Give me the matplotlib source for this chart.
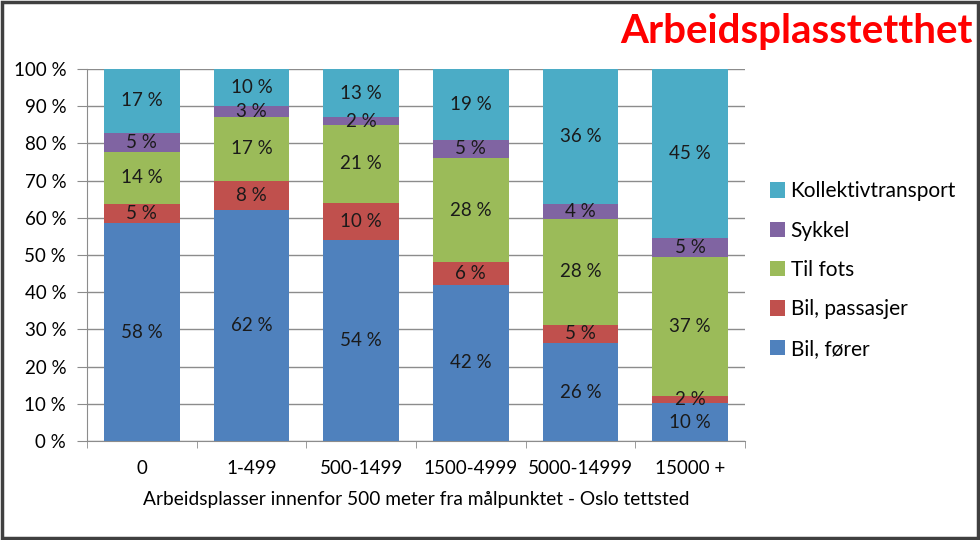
import numpy as np
import matplotlib.pyplot as plt
from matplotlib.patches import Rectangle

categories = ['0', '1-499', '500-1499', '1500-4999', '5000-14999', '15000 +']
series = ['Bil, fører', 'Bil, passasjer', 'Til fots', 'Sykkel', 'Kollektivtransport']
bil_forer = [58, 62, 54, 42, 26, 10]
bil_passasjer = [5, 8, 10, 6, 5, 2]
til_fots = [14, 17, 21, 28, 28, 37]
sykkel = [5, 3, 2, 5, 4, 5]
kollektiv = [17, 10, 13, 19, 36, 45]
colors = ['#4F81BD', '#C0504D', '#9BBB59', '#8064A2', '#4BACC6']

plt.rcParams['font.family'] = ['Lato', 'DejaVu Sans']

data = np.array([bil_forer, bil_passasjer, til_fots, sykkel, kollektiv], dtype=float)
share = data / data.sum(axis=0) * 100  # 100 % stacked, like Excel

fig = plt.figure(figsize=(9.8, 5.4), dpi=100)
ax = fig.add_axes([87/980, 1 - 441/540, (745-87)/980, (441-69)/540])

x = np.arange(len(categories))
bottom = np.zeros(len(categories))
for i, name in enumerate(series):
    ax.bar(x, share[i], 0.69, bottom=bottom, color=colors[i], label=name, zorder=3)
    for j in range(len(categories)):
        ax.text(x[j], bottom[j] + share[i][j] / 2, f'{int(data[i][j])}\u00a0%',
                ha='center', va='center', fontsize=13.5, color='#1a1a1a', zorder=4)
    bottom += share[i]

ax.set_xlim(-0.5, len(categories) - 0.5)
ax.set_ylim(0, 100)
ax.set_yticks(range(0, 101, 10))
ax.set_yticklabels([f'{v}\u00a0%' for v in range(0, 101, 10)], fontsize=13.5)
ax.yaxis.grid(True, color='#8c8c8c', linewidth=1, zorder=0)
ax.set_xticks(x)
ax.set_xticklabels(categories, fontsize=13.5)
ax.set_xticks(np.arange(-0.5, len(categories)), minor=True)
ax.tick_params(axis='x', which='major', length=0, pad=14)
ax.tick_params(axis='x', which='minor', length=5, color='#8c8c8c')
ax.tick_params(axis='y', length=7, color='#8c8c8c', pad=8)
for s in ['top', 'right']:
    ax.spines[s].set_visible(False)
ax.spines['left'].set_color('#8c8c8c')
ax.spines['bottom'].set_color('#8c8c8c')
ax.set_xlabel('Arbeidsplasser innenfor 500 meter fra målpunktet - Oslo tettsted', fontsize=13.8, labelpad=10)

handles, labels = ax.get_legend_handles_labels()
fig.legend(handles[::-1], labels[::-1], loc='center left', bbox_to_anchor=(751/980, 1 - 270/540),
           frameon=False, fontsize=15, handlelength=0.75, handleheight=0.75, handletextpad=0.25,
           labelspacing=0.93)

fig.text(973/980, 1 - 32/540, 'Arbeidsplasstetthet', ha='right', va='center',
         fontsize=29, fontweight='bold', color='#FF0000')

fig.patches.append(Rectangle((0.002, 0.003), 0.996, 0.994, transform=fig.transFigure,
                             fill=False, edgecolor='#404040', linewidth=2.5))

fig.savefig('out.png', dpi=100)
